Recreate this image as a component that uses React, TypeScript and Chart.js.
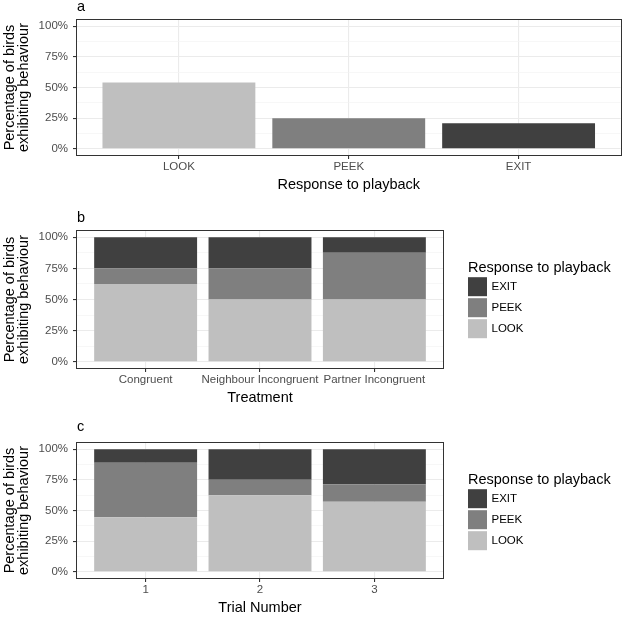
import React, { useEffect, useRef } from 'react';
import { Chart, registerables } from 'chart.js';

Chart.register(...registerables);

const FONT = "'Liberation Sans', Arial, Helvetica, sans-serif";
Chart.defaults.font.family = FONT;

// ---- data ----
const responses = ['LOOK', 'PEEK', 'EXIT'];
const overallPct = [54.17, 25.0, 20.83];

const treatments = ['Congruent', 'Neighbour Incongruent', 'Partner Incongruent'];
const treatLook = [62.5, 50, 50];
const treatPeek = [12.5, 25, 37.5];
const treatExit = [25, 25, 12.5];

const trials = ['1', '2', '3'];
const trialLook = [44.4, 62.5, 57.1];
const trialPeek = [44.5, 12.5, 14.3];
const trialExit = [11.1, 25, 28.6];

const yTicks = [0, 12.5, 25, 37.5, 50, 62.5, 75, 87.5, 100];
const legendOrder = ['EXIT', 'PEEK', 'LOOK'];
const legendTitle = 'Response to playback';
const yTitle = ['Percentage of birds', 'exhibiting behaviour'];

const fillColors: Record<string, string> = {
  LOOK: '#BFBFBF',
  PEEK: '#7F7F7F',
  EXIT: '#404040',
};

const W = 623;

const decorPlugin = {
  id: 'decor',
  afterDatasetsDraw(chart: any) {
    const { ctx, chartArea } = chart;
    const { left, top, right, bottom } = chartArea;
    ctx.save();
    ctx.strokeStyle = '#333333';
    ctx.lineWidth = 1;
    ctx.strokeRect(Math.round(left) - 0.5, Math.round(top) - 0.5, Math.round(right - left) + 1, Math.round(bottom - top) + 1);
    ctx.restore();
  },
  afterDraw(chart: any, _args: any, opts: any) {
    const { ctx, chartArea } = chart;
    ctx.save();
    ctx.fillStyle = '#000';
    ctx.textBaseline = 'alphabetic';
    ctx.textAlign = 'left';
    ctx.font = `14.5px ${FONT}`;
    if (opts.tag) ctx.fillText(opts.tag, chartArea.left, opts.tagBaseline);
    if (opts.legend) {
      const lx = 468;
      const baseTop = chartArea.top;
      ctx.fillText(legendTitle, lx, baseTop + 40.7);
      const keyTop = baseTop + 46.2;
      const size = 19;
      const pitch = 21;
      ctx.font = `11.5px ${FONT}`;
      ctx.textBaseline = 'middle';
      legendOrder.forEach((name, i) => {
        const y = keyTop + i * pitch;
        ctx.fillStyle = fillColors[name];
        ctx.fillRect(lx, y, size, size);
        ctx.fillStyle = '#000';
        ctx.fillText(name, lx + size + 4.5, y + size / 2 + 0.5);
      });
    }
    ctx.restore();
  },
};

function makeConfig(p: {
  labels: string[];
  datasets: any[];
  xTitle: string;
  tag: string;
  tagBaseline: number;
  areaTop: number;
  areaBottom: number;
  areaRight: number;
  height: number;
  legend: boolean;
  stacked: boolean;
}) {
  const xAxisH = 39;
  const isMajor = (ctx: any) => ctx.tick && ctx.tick.value % 25 === 0;
  return {
    type: 'bar' as const,
    data: { datasets: p.datasets },
    plugins: [decorPlugin],
    options: {
      animation: false as const,
      responsive: false,
      maintainAspectRatio: false,
      events: [] as any[],
      layout: {
        padding: {
          left: 0,
          top: p.areaTop,
          right: W - p.areaRight,
          bottom: p.height - p.areaBottom - xAxisH,
        },
      },
      plugins: {
        legend: { display: false },
        tooltip: { enabled: false },
        title: { display: false },
        decor: { tag: p.tag, tagBaseline: p.tagBaseline, legend: p.legend },
      },
      scales: {
        x: {
          type: 'linear' as const,
          min: 0.4,
          max: 3.6,
          offset: false,
          stacked: p.stacked,
          afterBuildTicks: (s: any) => {
            s.ticks = p.labels.map((_, i) => ({ value: i + 1 }));
          },
          afterFit: (s: any) => {
            s.height = xAxisH;
          },
          ticks: {
            autoSkip: false,
            maxRotation: 0,
            minRotation: 0,
            padding: 1.4,
            color: '#4D4D4D',
            font: { family: FONT, size: 11.5, lineHeight: 1.2 },
            callback: (_v: any, i: number) => p.labels[i],
          },
          grid: {
            offset: false,
            color: '#EBEBEB',
            lineWidth: 1.1,
            tickLength: 4,
            tickColor: '#333333',
            drawTicks: true,
          },
          border: { display: false },
          title: {
            display: true,
            text: p.xTitle,
            color: '#000',
            font: { family: FONT, size: 14.5, lineHeight: 1.2 },
            padding: { top: 0, bottom: 0 },
          },
        },
        y: {
          type: 'linear' as const,
          min: -5,
          max: 105,
          stacked: p.stacked,
          afterBuildTicks: (s: any) => {
            s.ticks = yTicks.map((v) => ({ value: v }));
          },
          afterFit: (s: any) => {
            s.width = 77;
          },
          ticks: {
            autoSkip: false,
            padding: 5,
            color: '#4D4D4D',
            font: { family: FONT, size: 11.5 },
            callback: (v: any) => (v % 25 === 0 ? `${v}%` : ''),
          },
          grid: {
            color: (ctx: any) => (isMajor(ctx) ? '#EBEBEB' : '#F3F3F3'),
            lineWidth: (ctx: any) => (isMajor(ctx) ? 1.1 : 0.7),
            tickLength: 4,
            tickColor: (ctx: any) => (isMajor(ctx) ? '#333333' : 'rgba(0,0,0,0)'),
            drawTicks: true,
          },
          border: { display: false },
          title: {
            display: true,
            text: yTitle,
            color: '#000',
            font: { family: FONT, size: 14.5, lineHeight: 0.97 },
            padding: { top: 2.5, bottom: 0 },
          },
        },
      },
    },
  };
}

function barDataset(label: string, values: number[], color: string | string[]) {
  return {
    label,
    data: values.map((v, i) => ({ x: i + 1, y: v })),
    backgroundColor: color,
    borderWidth: 0,
    barPercentage: 0.9,
    categoryPercentage: 1,
  };
}

function stackedDatasets(look: number[], peek: number[], exit: number[]) {
  return [
    barDataset('LOOK', look, fillColors.LOOK),
    barDataset('PEEK', peek, fillColors.PEEK),
    barDataset('EXIT', exit, fillColors.EXIT),
  ];
}

function Panel({ top, height, config }: { top: number; height: number; config: () => any }) {
  const ref = useRef<HTMLCanvasElement>(null);
  useEffect(() => {
    const chart = new Chart(ref.current as HTMLCanvasElement, config());
    return () => chart.destroy();
  }, []);
  return (
    <canvas
      ref={ref}
      width={W}
      height={height}
      style={{ position: 'absolute', left: 0, top, width: W, height, display: 'block' }}
    />
  );
}

export default function App() {
  return (
    <div style={{ position: 'absolute', left: 0, top: 0, width: 623, height: 621, background: '#fff', overflow: 'hidden' }}>
      <Panel
        top={0}
        height={205}
        config={() =>
          makeConfig({
            labels: responses,
            datasets: [barDataset('Overall', overallPct, responses.map((r) => fillColors[r]))],
            xTitle: 'Response to playback',
            tag: 'a',
            tagBaseline: 10.7,
            areaTop: 20,
            areaBottom: 155,
            areaRight: 620.5,
            height: 205,
            legend: false,
            stacked: false,
          })
        }
      />
      <Panel
        top={205}
        height={210}
        config={() =>
          makeConfig({
            labels: treatments,
            datasets: stackedDatasets(treatLook, treatPeek, treatExit),
            xTitle: 'Treatment',
            tag: 'b',
            tagBaseline: 16.7,
            areaTop: 26,
            areaBottom: 163,
            areaRight: 443,
            height: 210,
            legend: true,
            stacked: true,
          })
        }
      />
      <Panel
        top={415}
        height={206}
        config={() =>
          makeConfig({
            labels: trials,
            datasets: stackedDatasets(trialLook, trialPeek, trialExit),
            xTitle: 'Trial Number',
            tag: 'c',
            tagBaseline: 16,
            areaTop: 28,
            areaBottom: 163,
            areaRight: 443,
            height: 206,
            legend: true,
            stacked: true,
          })
        }
      />
    </div>
  );
}
